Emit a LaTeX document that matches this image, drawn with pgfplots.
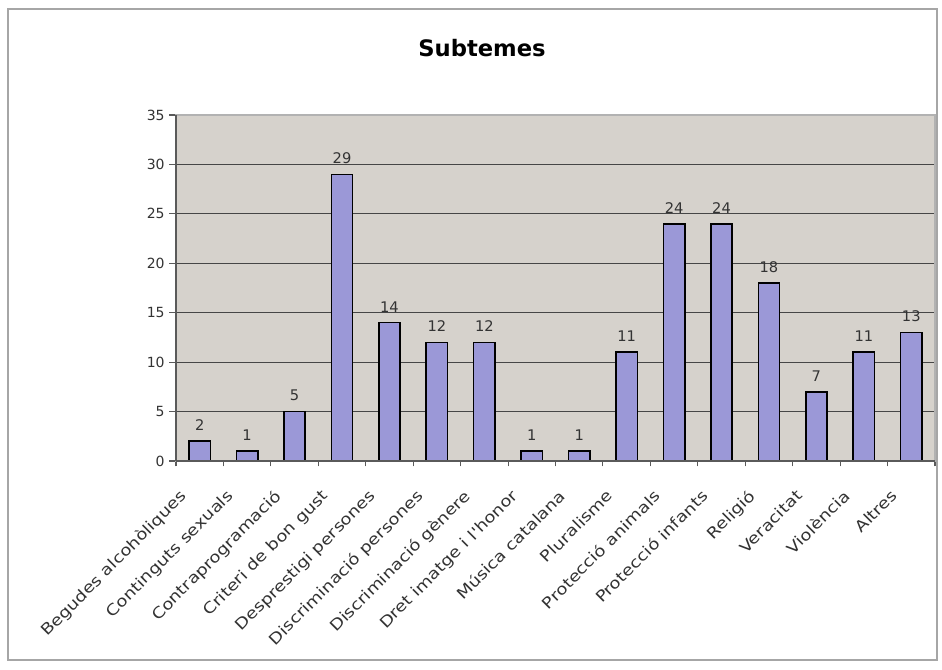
\documentclass[border=0pt]{standalone}
\usepackage{pgfplots}
\pgfplotsset{compat=1.18}
\usepackage{fontspec}
\setmainfont{DejaVu Sans}
\newfontfamily\lblfont{DejaVu Sans}[FakeStretch=1.18]
\definecolor{plotbg}{RGB}{214,210,204}
\definecolor{barfill}{RGB}{155,152,215}
\definecolor{gridc}{RGB}{70,70,70}
\definecolor{axisc}{RGB}{90,90,90}
\begin{document}
\begin{tikzpicture}
  % picture frame in pixel units (1px = 0.75pt)
  \useasboundingbox (-132pt,-156pt) rectangle (574.5pt,345.75pt);
  \fill[white] (-132pt,-156pt) rectangle (574.5pt,345.75pt);
  \draw[gray!70, line width=1pt] (-126pt,-149.25pt) rectangle (570.75pt,339pt);
  \node[font=\bfseries\fontsize{17}{20}\selectfont] at (229.5pt,309.75pt) {Subtemes};
  \begin{axis}[
    at={(0,0)}, anchor=south west,
    scale only axis,
    width=569.25pt, height=259.5pt,
    axis background/.style={fill=plotbg},
    axis line style={gray!60, line width=0.8pt},
    ybar, bar width=16pt,
    xmin=-0.5, xmax=15.5,
    ymin=0, ymax=35,
    ytick={0,5,...,35},
    xtick={0,...,15},
    minor xtick={-0.5,0.5,...,15.5},
    xtick pos=bottom, ytick pos=left,
    xticklabels={Begudes alcohòliques, Continguts sexuals, Contraprogramació,
      Criteri de bon gust, Desprestigi persones, Discriminació persones,
      Discriminació gènere, Dret imatge i l'honor, Música catalana, Pluralisme,
      Protecció animals, Protecció infants, Religió, Veracitat, Violència, Altres},
    x tick label style={xshift=-16pt, yshift=-14pt, rotate=45, anchor=north east,
      inner sep=1pt, font=\lblfont\fontsize{11.5}{13}\selectfont, text=black!80},
    y tick label style={font=\fontsize{10.5}{12}\selectfont, text=black!80},
    yticklabel style={/pgf/number format/assume math mode=true},
    tick align=outside,
    major x tick style={draw=none},
    minor tick length=4pt,
    major tick length=5pt,
    tick style={axisc, line width=0.8pt},
    ymajorgrids=true,
    grid style={gridc, line width=0.8pt},
    nodes near coords,
    nodes near coords style={font=\fontsize{11}{13}\selectfont, text=black!80,
      yshift=4pt, /pgf/number format/assume math mode=true},
    clip=false,
  ]
    \addplot[fill=barfill, draw=black, line width=1.2pt] coordinates {
      (0,2) (1,1) (2,5) (3,29) (4,14) (5,12) (6,12) (7,1)
      (8,1) (9,11) (10,24) (11,24) (12,18) (13,7) (14,11) (15,13)};
    \draw[axisc, line width=0.8pt] (rel axis cs:0,0) -- (rel axis cs:0,1);
    \draw[axisc, line width=0.8pt] (rel axis cs:0,0) -- (rel axis cs:1,0);
  \end{axis}
\end{tikzpicture}
\end{document}
